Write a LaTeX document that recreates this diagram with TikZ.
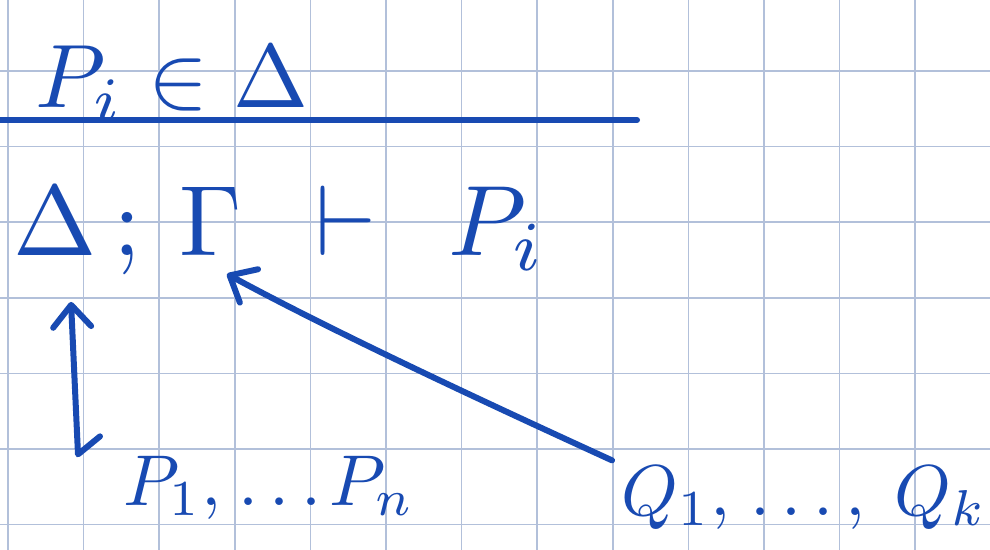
\documentclass[tikz,border=0pt]{standalone}
\usepackage{amsmath}
\usepackage{amssymb}
\usetikzlibrary{calc, positioning}
\usetikzlibrary{arrows.meta}

\definecolor{inkblue}{RGB}{24,74,178}
\definecolor{gridblue}{RGB}{178,192,218}

\begin{document}
\begin{tikzpicture}[x=0.5pt,y=-0.5pt,
  sym/.style={text=inkblue, scale=5, inner sep=0pt},
  lst/.style={text=inkblue, scale=3.6, inner sep=0pt},
  conn/.style={draw=inkblue, line width=3pt, line cap=round, line join=round,
    -{Straight Barb[length=11pt,width=19pt,round]}}]
\def\gridStep{75.6}
\def\xGrid{8}
\def\yGrid{71}

\useasboundingbox (0,0) rectangle (990,550);
\fill[white] (0,0) rectangle (990,550);

% squared paper
\foreach \i in {0,...,13}
  \draw[gridblue, line width=0.8pt] ({\xGrid+\i*\gridStep},0) -- ({\xGrid+\i*\gridStep},550);
\foreach \j in {0,...,6}
  \draw[gridblue, line width=0.8pt] (0,{\yGrid+\j*\gridStep}) -- (990,{\yGrid+\j*\gridStep});

% premise and rule line
\node[sym, scale=0.9, anchor=base] (prem) at (172,108) {$P_i \in \Delta$};
\draw[inkblue, line width=3pt, line cap=round] (0,120) -- (637,120);

% conclusion
\node[sym, anchor=base] (delta) at (55,256) {$\Delta$};
\node[sym, anchor=base] (semi) at (127,256) {$;$};
\node[sym, anchor=base] (gamma) at (211,256) {$\Gamma$};
\node[sym, anchor=base] (turn) at (346,256) {$\vdash$};
\node[sym, anchor=base west] (concl) at (446,256) {$P_i$};

% hypotheses
\node[lst, anchor=base west] (p1) at (122,505) {$P_1,$};
\node[lst, anchor=base] (pdots) at (280,505) {$\ldots$};
\node[lst, anchor=base west] (pn) at (328,505) {$P_n$};

\node[lst, anchor=base west] (q1) at (620,515) {$Q_1,$};
\node[lst, anchor=base] (qdots) at (808,515) {$\ldots,$};
\node[lst, anchor=base west] (qk) at (893,515) {$Q_k$};

\coordinate (ptail) at ([xshift=-22pt]p1.north west);
\coordinate (phook) at ([xshift=-11pt,yshift=9pt]p1.north west);

\draw[conn, shorten >=22pt] (phook) -- (ptail) -- ([xshift=7pt]delta.south);
\draw[conn] ([xshift=-4pt,yshift=2pt]q1.north west) .. controls (480,400) and (330,330) .. ([xshift=8pt,yshift=-8pt]gamma.south);
\end{tikzpicture}
\end{document}
